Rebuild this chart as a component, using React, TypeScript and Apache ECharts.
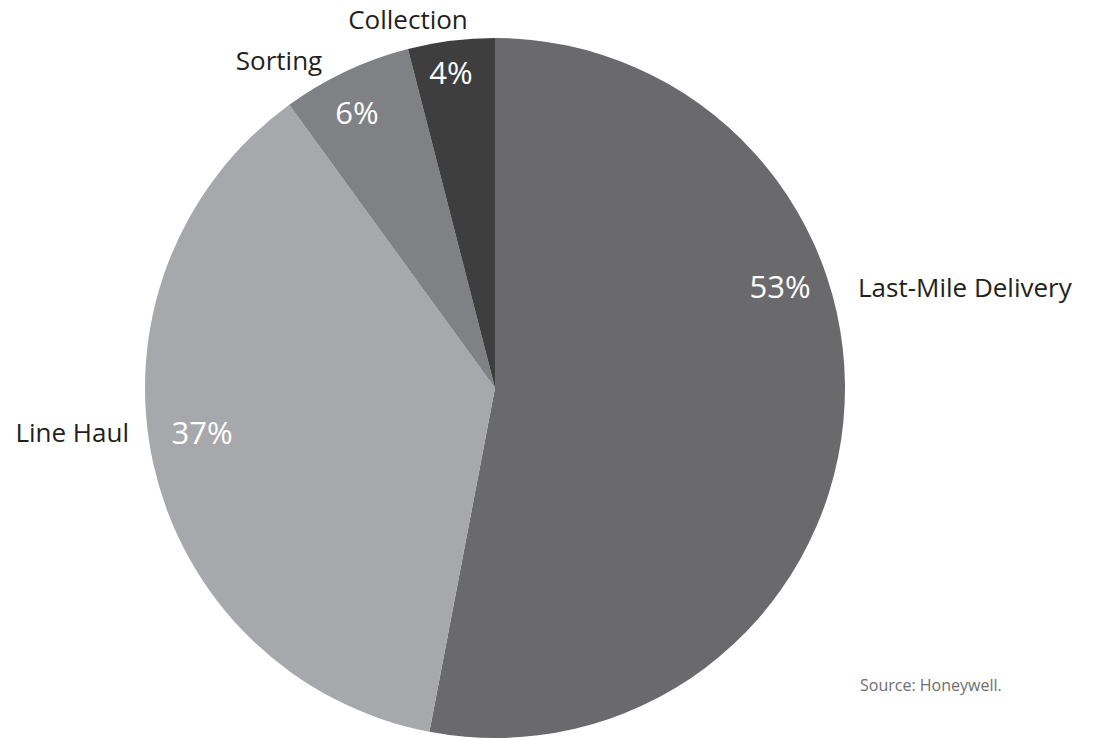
import React, { useEffect, useRef } from "react";
import * as echarts from "echarts";

const categories = ["Last-Mile Delivery", "Line Haul", "Sorting", "Collection"];
const shares = [53, 37, 6, 4];
const colors = ["#6a6a6c", "#a7a8ab", "#808184", "#3e3e3f"];

// label anchors (px) for percentage labels and name labels
const pctAnchors: [number, number][] = [[780, 286], [202, 432], [357, 112], [451, 72]];
const nameAnchors: { x: number; y: number; align: string }[] = [
  { x: 858, y: 287, align: "left" },
  { x: 129, y: 432, align: "right" },
  { x: 279, y: 60, align: "center" },
  { x: 408, y: 19, align: "center" },
];

const FONT = "'Open Sans', 'Noto Sans', sans-serif";

export default function App() {
  const ref = useRef<HTMLDivElement>(null);
  useEffect(() => {
    if (!ref.current) return;
    const chart = echarts.init(ref.current, null, { renderer: "svg" });
    const data = categories.map((c, i) => ({
      name: c,
      value: shares[i],
      itemStyle: { color: colors[i] },
    }));
    chart.setOption({
      animation: false,
      backgroundColor: "#ffffff",
      series: [
        {
          type: "pie",
          center: [495, 388],
          radius: [0, 350],
          startAngle: 90,
          clockwise: true,
          silent: true,
          itemStyle: { borderWidth: 0 },
          label: {
            show: true,
            position: "inside",
            formatter: "{c}%",
            color: "#ffffff",
            fontFamily: FONT,
            fontSize: 31,
          },
          labelLine: { show: false },
          labelLayout: (p: any) => ({
            x: pctAnchors[p.dataIndex][0],
            y: pctAnchors[p.dataIndex][1],
            align: "center",
            verticalAlign: "middle",
          }),
          data,
        },
        {
          type: "pie",
          center: [495, 388],
          radius: [0, 350],
          startAngle: 90,
          clockwise: true,
          silent: true,
          itemStyle: { color: "transparent" },
          label: {
            show: true,
            position: "inside",
            formatter: "{b}",
            color: "#231f20",
            fontFamily: FONT,
            fontSize: 26,
          },
          labelLine: { show: false },
          labelLayout: (p: any) => ({
            x: nameAnchors[p.dataIndex].x,
            y: nameAnchors[p.dataIndex].y,
            align: nameAnchors[p.dataIndex].align,
            verticalAlign: "middle",
          }),
          data: categories.map((c, i) => ({ name: c, value: shares[i] })),
        },
      ],
      graphic: [
        {
          type: "text",
          left: 860,
          top: 677,
          style: {
            text: "Source: Honeywell.",
            fill: "#6d6e70",
            font: `16px ${FONT}`,
          },
        },
      ],
    });
    return () => chart.dispose();
  }, []);
  return (
    <div
      ref={ref}
      style={{ position: "absolute", left: 0, top: 0, width: 1095, height: 740 }}
    />
  );
}
